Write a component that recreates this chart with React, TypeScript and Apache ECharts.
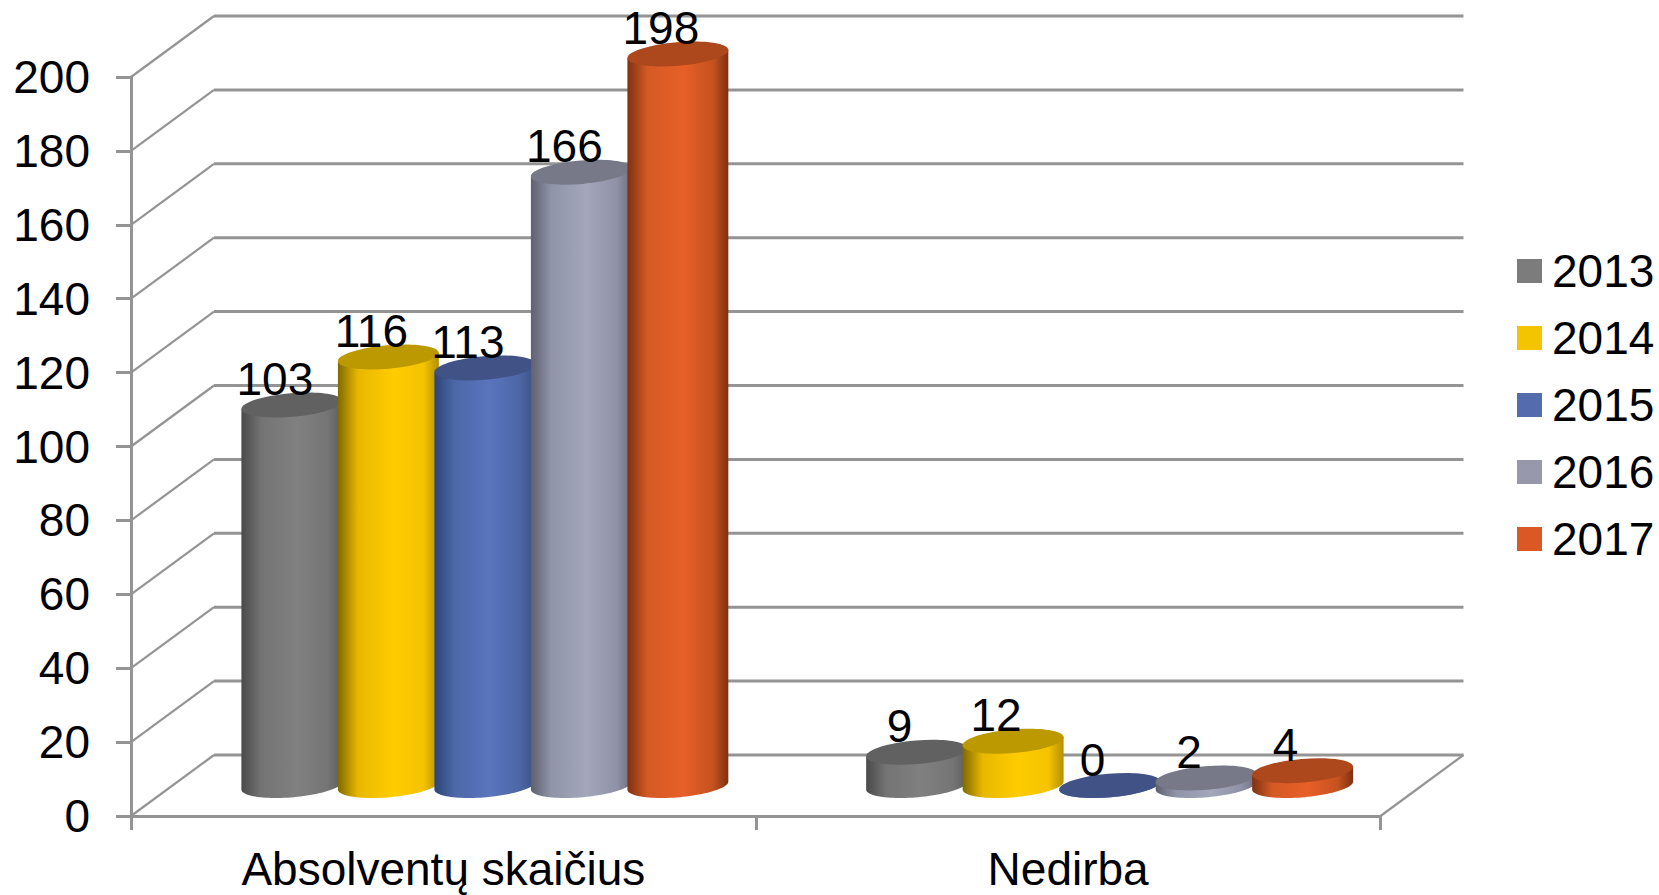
import React, { useEffect, useRef } from "react";
import * as echarts from "echarts";

const categories = ["Absolventų skaičius", "Nedirba"];
const years = ["2013", "2014", "2015", "2016", "2017"];
const values2013 = [103, 9];
const values2014 = [116, 12];
const values2015 = [113, 0];
const values2016 = [166, 2];
const values2017 = [198, 4];
const yTicks = [0, 20, 40, 60, 80, 100, 120, 140, 160, 180, 200];

const FONT = '"Liberation Sans", Arial, sans-serif';
const GREY = "#949494";
const FS = 46;
const DEPTH_X = 83;
const DEPTH_Y = -61;
const STEP = 96.5;
const RX = 50.67;
const RY = 11.8;
const THETA = 0.084;

const seriesValues = [values2013, values2014, values2015, values2016, values2017];
const legendColors = ["#7c7c7c", "#f5c400", "#526cae", "#9798ab", "#db5824"];
const topColors = ["#616161", "#bd9900", "#405286", "#777988", "#ac481c"];
const gradientStops = [0, 0.2, 0.55, 0.85, 1];
const gradients = [
  ["#4a4a4a", "#747474", "#808080", "#757575", "#5e5e5e"],
  ["#806a00", "#e8b800", "#ffcc00", "#f5c300", "#b38f00"],
  ["#2f4475", "#4c68a8", "#5a75bd", "#4c66a5", "#3a5083"],
  ["#5f6070", "#9094a8", "#a4a7bc", "#8f91a6", "#6c6d7e"],
  ["#7d3212", "#d45a24", "#e85f28", "#c5521f", "#7d3012"],
];

function ellipsePoint(cx: number, cy: number, t: number) {
  const ex = RX * Math.cos(t);
  const ey = RY * Math.sin(t);
  return [cx + ex * Math.cos(THETA) + ey * Math.sin(THETA), cy - ex * Math.sin(THETA) + ey * Math.cos(THETA)];
}

function extremeAngle() {
  return Math.atan2(-RY * Math.sin(THETA), RX * Math.cos(THETA));
}

function renderCylinder(seriesIndex: number) {
  return (params: any, api: any) => {
    const cat = api.value(0);
    const val = api.value(1);
    const base = api.coord([cat, 0]);
    const top = api.coord([cat, val]);
    const cx = base[0] + DEPTH_X / 2 + (seriesIndex - 2) * STEP;
    const by = base[1] + DEPTH_Y / 2;
    const ty = top[1] + DEPTH_Y / 2;
    const a0 = extremeAngle();
    const pts: number[][] = [];
    const N = 48;
    pts.push(ellipsePoint(cx, ty, a0 + Math.PI));
    for (let i = 0; i <= N; i++) {
      const t = a0 + Math.PI - (Math.PI * i) / N;
      pts.push(ellipsePoint(cx, by, t));
    }
    pts.push(ellipsePoint(cx, ty, a0));
    const g = gradients[seriesIndex];
    const fill = new echarts.graphic.LinearGradient(
      0,
      0,
      1,
      0,
      g.map((color, k) => ({ offset: gradientStops[k], color })),
    );
    return {
      type: "group",
      children: [
        { type: "polygon", shape: { points: pts }, style: { fill } },
        {
          type: "ellipse",
          x: cx,
          y: ty,
          rotation: THETA,
          shape: { cx: 0, cy: 0, rx: RX, ry: RY },
          style: { fill: topColors[seriesIndex] },
        },
        {
          type: "text",
          z2: 100,
          style: {
            text: String(val),
            x: cx - 17,
            y: ty - 26,
            align: "center",
            verticalAlign: "middle",
            fill: "#000",
            font: `${FS}px ${FONT}`,
          },
        },
      ],
    };
  };
}

function renderWalls(params: any, api: any) {
  const v = api.value(1);
  const p = api.coord([0, v]);
  const cs = params.coordSys;
  const thin = { stroke: GREY, lineWidth: 2.2, fill: "none" };
  const thick = { stroke: GREY, lineWidth: 3, fill: "none" };
  const children: any[] = [
    {
      type: "line",
      shape: { x1: cs.x, y1: p[1], x2: cs.x + DEPTH_X, y2: p[1] + DEPTH_Y },
      style: thin,
    },
    {
      type: "line",
      shape: { x1: cs.x + DEPTH_X, y1: p[1] + DEPTH_Y, x2: cs.x + cs.width + DEPTH_X, y2: p[1] + DEPTH_Y },
      style: thick,
    },
  ];
  if (v === 0) {
    children.push({
      type: "line",
      shape: { x1: cs.x + cs.width, y1: p[1], x2: cs.x + cs.width + DEPTH_X, y2: p[1] + DEPTH_Y },
      style: thin,
    });
  }
  return { type: "group", children };
}

export default function App() {
  const ref = useRef<HTMLDivElement>(null);
  useEffect(() => {
    const chart = echarts.init(ref.current!, null, { renderer: "svg" });
    chart.setOption({
      animation: false,
      backgroundColor: "#fff",
      textStyle: { fontFamily: FONT },
      legend: {
        orient: "vertical",
        left: 1517,
        top: 248,
        padding: 0,
        itemWidth: 25,
        itemHeight: 24,
        itemGap: 21,
        selectedMode: false,
        data: years.map((name, i) => ({
          name,
          icon: "rect",
          itemStyle: { color: legendColors[i] },
        })),
        textStyle: { fontSize: FS, fontFamily: FONT, color: "#000", lineHeight: 46, padding: [0, 0, 0, 5] },
      },
      grid: { left: 131, top: 77, width: 1249.5, height: 739 },
      xAxis: {
        type: "category",
        data: categories,
        axisLine: { lineStyle: { color: GREY, width: 3 } },
        axisTick: { show: true, length: 14, lineStyle: { color: GREY, width: 3 } },
        axisLabel: { fontSize: FS, fontFamily: FONT, color: "#000", margin: 33, lineHeight: 40 },
        splitLine: { show: false },
      },
      yAxis: {
        type: "value",
        min: 0,
        max: 200,
        interval: 20,
        axisLine: { show: true, lineStyle: { color: GREY, width: 3 } },
        axisTick: { show: true, length: 15, lineStyle: { color: GREY, width: 3 } },
        axisLabel: { fontSize: FS, fontFamily: FONT, color: "#000", margin: 41 },
        splitLine: { show: false },
      },
      series: [
        {
          type: "custom",
          name: "walls",
          silent: true,
          z: 1,
          renderItem: renderWalls,
          encode: { x: 0, y: 1 },
          data: yTicks.map((v) => [0, v]),
        },
        ...years.map((name, i) => ({
          type: "custom",
          name,
          z: 3 + i,
          itemStyle: { color: legendColors[i] },
          renderItem: renderCylinder(i),
          encode: { x: 0, y: 1 },
          data: seriesValues[i].map((v, c) => [c, v]),
        })),
      ],
    });
    return () => chart.dispose();
  }, []);
  return <div ref={ref} style={{ position: "fixed", left: 0, top: 0, width: 1659, height: 895 }} />;
}
